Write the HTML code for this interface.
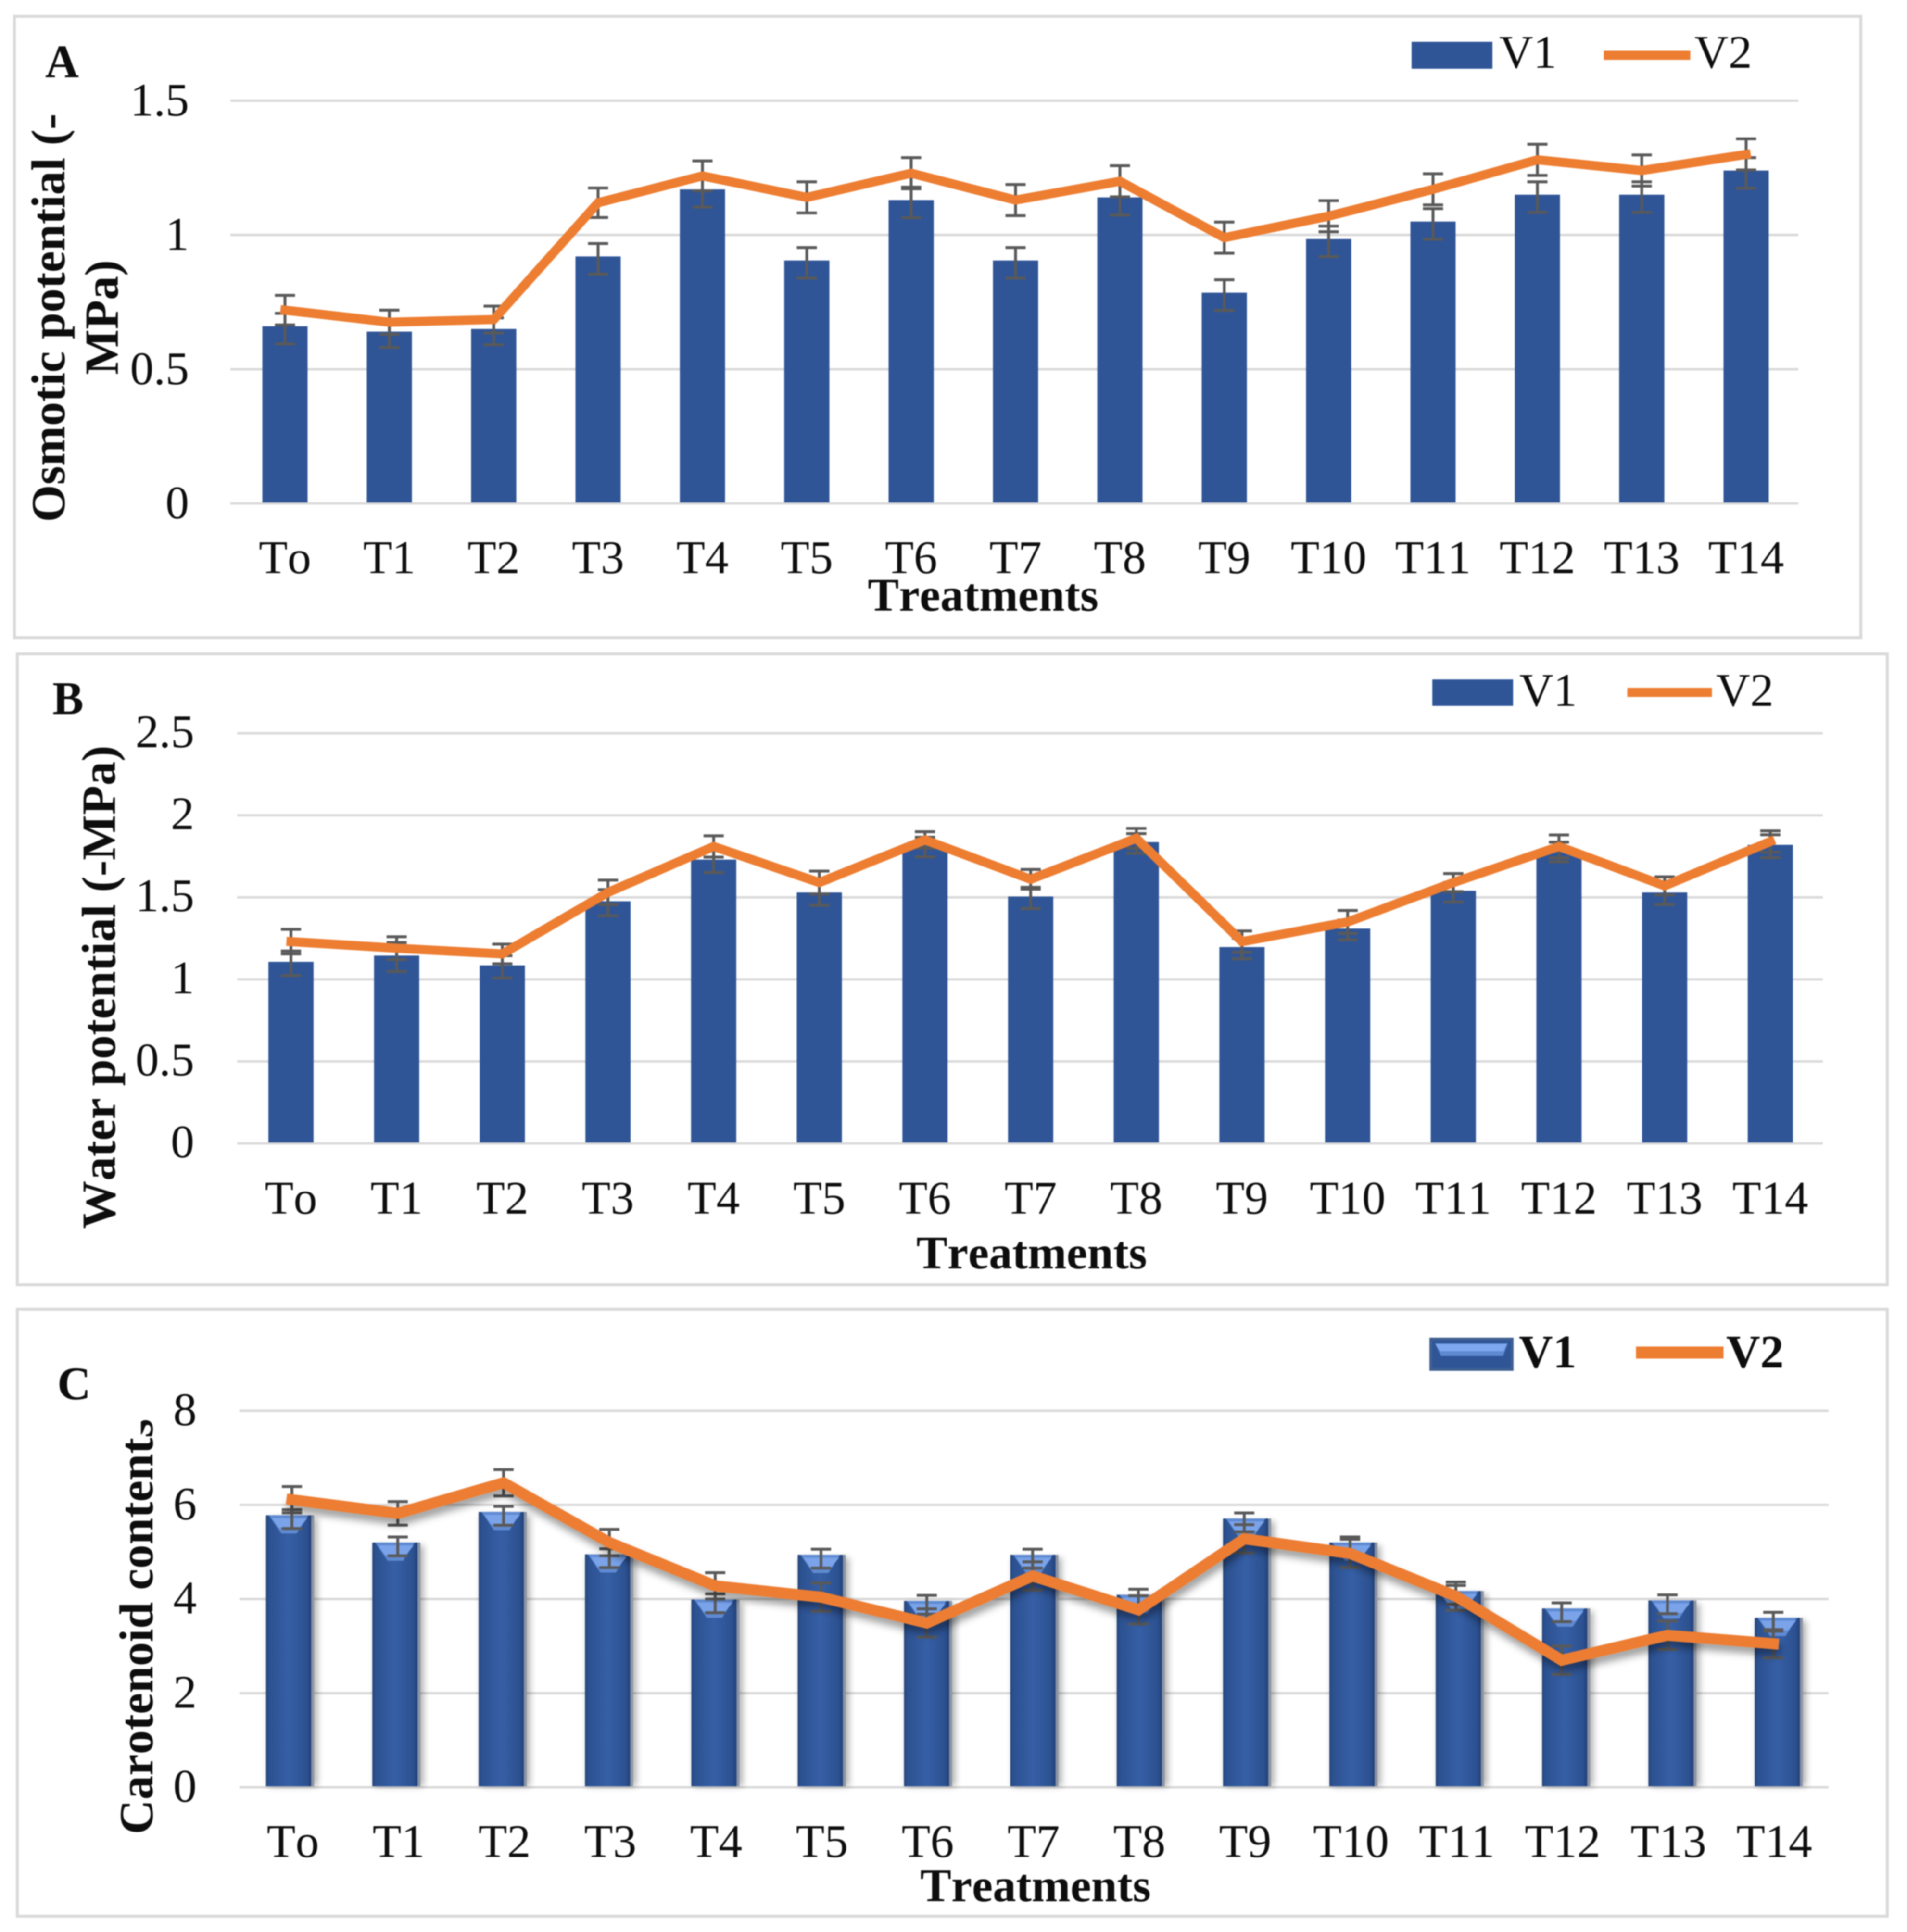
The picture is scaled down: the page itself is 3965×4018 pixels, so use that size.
<!DOCTYPE html>
<html lang="en">
<head>
<meta charset="utf-8">
<title>Osmotic potential, water potential and carotenoid content by treatment</title>
<style>
html,body{margin:0;padding:0;background:#fff;width:3965px;height:4018px;overflow:hidden}
svg{display:block;filter:blur(1.2px)}
text{font-family:"Liberation Serif",serif;fill:#0d0d0d;font-kerning:none;font-variant-ligatures:none}
.t{font-size:98px}
.b{font-size:97px;font-weight:bold}
.y{font-size:100px;font-weight:bold}
</style>
</head>
<body>
<svg id="figure" xmlns="http://www.w3.org/2000/svg" width="3965" height="4018" viewBox="0 0 3965 4018">
  <defs>
    <linearGradient id="bevelBar" x1="0" x2="1" y1="0" y2="0">
      <stop offset="0" stop-color="#24447a"/>
      <stop offset="0.07" stop-color="#2c5190"/>
      <stop offset="0.5" stop-color="#365fa6"/>
      <stop offset="0.9" stop-color="#2c5190"/>
      <stop offset="1" stop-color="#22407a"/>
    </linearGradient>
    <filter id="softShadow" x="-30%" y="-10%" width="160%" height="120%"><feGaussianBlur stdDeviation="7"/></filter>
    <filter id="lineShadow" x="-5%" y="-30%" width="110%" height="160%"><feDropShadow dx="4" dy="13" stdDeviation="8" flood-color="#000" flood-opacity="0.38"/></filter>
    <clipPath id="titleClip"><rect x="150" y="2992" width="220" height="900"/><rect x="293" y="2900" width="80" height="100"/></clipPath>
  </defs>
  <rect x="0" y="0" width="3965" height="4018" fill="#fff"/>

  <rect x="30" y="34" width="3839" height="1292" fill="#fff" stroke="#d9d9d9" stroke-width="6"/>
  <rect x="36" y="1360" width="3888" height="1312" fill="#fff" stroke="#d9d9d9" stroke-width="6"/>
  <rect x="36" y="2723" width="3888" height="1262" fill="#fff" stroke="#d9d9d9" stroke-width="6"/>

  <g id="marks"></g>

  <text class="b" x="94" y="161">A</text>
  <text class="b" x="109" y="1485">B</text>
  <text class="b" x="119" y="2910">C</text>

  <text class="y" text-anchor="middle" transform="translate(134 661) rotate(-90)">Osmotic potential (-</text>
  <text class="y" text-anchor="middle" transform="translate(245 660) rotate(-90)">MPa)</text>
  <text class="y" text-anchor="middle" transform="translate(239 2053) rotate(-90)">Water potential (-MPa)</text>
  <g clip-path="url(#titleClip)">
    <text class="y" transform="translate(317 3815) rotate(-90)">Carotenoid contents</text>
  </g>

  <text class="b" text-anchor="middle" x="2044" y="1270">Treatments</text>
  <text class="b" text-anchor="middle" x="2145" y="2638">Treatments</text>
  <text class="b" text-anchor="middle" x="2153" y="3954">Treatments</text>

  <g>
    <rect x="2935" y="87" width="168" height="56" fill="#2f5597"/>
    <text class="t" x="3117" y="141">V1</text>
    <line x1="3344" y1="115" x2="3505" y2="115" stroke="#ed7d31" stroke-width="19" stroke-linecap="square"/>
    <text class="t" x="3523" y="141">V2</text>
  </g>
  <g>
    <rect x="2978" y="1413" width="168" height="55" fill="#2f5597"/>
    <text class="t" x="3159" y="1468">V1</text>
    <line x1="3393" y1="1440" x2="3550" y2="1440" stroke="#ed7d31" stroke-width="19" stroke-linecap="square"/>
    <text class="t" x="3568" y="1468">V2</text>
  </g>
  <g>
    <g>
      <rect x="2972" y="2782" width="175" height="69" fill="#3f5f92"/>
      <rect x="2978" y="2788" width="163" height="57" fill="#2f5597"/>
      <polygon points="2984,2794 3135,2794 3125,2820 2996,2820" fill="#5f8ad2"/>
      <polygon points="2984,2795 3133,2795 3126,2810 2994,2810" fill="#7ea8ef"/>
    </g>
    <text class="b" style="font-size:98px" x="3158" y="2844">V1</text>
    <line x1="3414" y1="2813" x2="3571" y2="2813" stroke="#ed7d31" stroke-width="25" stroke-linecap="square"/>
    <text class="b" style="font-size:98px" x="3589" y="2844">V2</text>
  </g>
</svg>

<script>
const categories = ['To','T1','T2','T3','T4','T5','T6','T7','T8','T9','T10','T11','T12','T13','T14'];

const panelATicks = [0, 0.5, 1, 1.5];
const panelAV1 = [0.66,0.64,0.65,0.92,1.17,0.905,1.13,0.905,1.14,0.785,0.985,1.05,1.15,1.15,1.24];
const panelAV2 = [0.72,0.675,0.685,1.12,1.22,1.14,1.23,1.13,1.20,0.99,1.07,1.17,1.28,1.24,1.30];
const panelAV1Err = [0.057,0.05,0.05,0.057,0.057,0.057,0.057,0.057,0.057,0.057,0.057,0.057,0.057,0.057,0.057];
const panelAV2Err = [0.055,0.045,0.05,0.055,0.056,0.058,0.058,0.058,0.058,0.058,0.058,0.058,0.058,0.058,0.058];

const panelBTicks = [0, 0.5, 1, 1.5, 2, 2.5];
const panelBV1 = [1.107,1.145,1.085,1.476,1.73,1.53,1.815,1.505,1.837,1.197,1.31,1.54,1.785,1.53,1.82];
const panelBV2 = [1.23,1.19,1.155,1.53,1.81,1.59,1.85,1.61,1.86,1.23,1.35,1.59,1.81,1.57,1.84];
const panelBV1Err = [0.075,0.088,0.068,0.08,0.07,0.07,0.06,0.065,0.06,0.063,0.06,0.06,0.06,0.065,0.07];
const panelBV2Err = [0.075,0.07,0.06,0.075,0.065,0.07,0.05,0.06,0.06,0.065,0.07,0.055,0.07,0.055,0.065];

const panelCTicks = [0, 2, 4, 6, 8];
const panelCV1 = [5.78,5.2,5.85,4.95,3.99,4.94,3.96,4.94,4.09,5.71,5.2,4.17,3.8,3.97,3.6];
const panelCV2 = [6.11,5.82,6.47,5.2,4.28,4.04,3.49,4.49,3.77,5.28,4.97,4.06,2.7,3.23,3.05];
const panelCV1Err = [0.2,0.2,0.2,0.2,0.2,0.2,0.2,0.2,0.2,0.2,0.2,0.2,0.2,0.2,0.2];
const panelCV2Err = [0.28,0.25,0.28,0.28,0.28,0.3,0.3,0.3,0.3,0.3,0.3,0.3,0.3,0.3,0.3];

const SVG_NS = 'http://www.w3.org/2000/svg';
const marksRoot = document.getElementById('marks');

function make(tag, attrs, parent, text) {
  const node = document.createElementNS(SVG_NS, tag);
  for (const key in attrs) node.setAttribute(key, attrs[key]);
  if (text !== undefined) node.textContent = text;
  parent.appendChild(node);
  return node;
}

function yScale(p, v) { return p.y0 - (p.y0 - p.yTop) * v / p.yMax; }
function xBar(p, i) { return p.barX0 + p.barStep * i; }
function xMark(p, i) { return p.markX0 + p.markStep * i; }

function drawErrorBar(p, group, i, value, err, shift, seriesName) {
  const x = xMark(p, i);
  const top = yScale(p, value + err) + shift;
  const bottom = yScale(p, value - err) + shift;
  const stem = make('line', {x1:x, x2:x, y1:top, y2:bottom, stroke:'#595959', 'stroke-width':6}, group);
  
  
  const capTop = make('line', {x1:x-21, x2:x+21, y1:top, y2:top, stroke:'#595959', 'stroke-width':6}, group);
  
  
  const capBottom = make('line', {x1:x-21, x2:x+21, y1:bottom, y2:bottom, stroke:'#595959', 'stroke-width':6}, group);
  
  
}

function drawBevelBar(p, group, i, value) {
  const w = p.barW;
  const x = xBar(p, i) - w / 2;
  const top = yScale(p, value);
  const h = p.y0 - 2 - top;
  const name = p.id + '-bar-' + categories[i];

  const shadow = make('rect', {x:x+5, y:top+6, width:w+8, height:h-6, fill:'#000', opacity:0.3, filter:'url(#softShadow)'}, group);
  
  

  const side = make('rect', {x:x+w, y:top, width:6, height:h, fill:'#8b94a3'}, group);
  
  

  const body = make('rect', {x:x, y:top, width:w, height:h, fill:'url(#bevelBar)'}, group);
  
  

  const bevelPts = [[x+6,top],[x+w-6,top],[x+w-30,top+38],[x+32,top+38]].map(function (q) { return q.join(','); }).join(' ');
  const bevel = make('polygon', {points:bevelPts, fill:'#5f8ad2'}, group);
  
  

  const lightPts = [[x+12,top+6],[x+w-8,top+6],[x+w-24,top+26],[x+26,top+26]].map(function (q) { return q.join(','); }).join(' ');
  const light = make('polygon', {points:lightPts, fill:'#7aa3ea'}, group);
  
  
}

function drawFlatBar(p, group, i, value) {
  const top = yScale(p, value);
  const bar = make('rect', {x:xBar(p, i) - p.barW / 2, y:top, width:p.barW, height:p.y0 - 2 - top, fill:'#2f5597'}, group);
  
  
}

function drawPanel(p) {
  const root = make('g', {}, marksRoot);
  
  

  p.ticks.forEach(function (tick) {
    const y = yScale(p, tick);
    const grid = make('line', {x1:p.gridL, x2:p.gridR, y1:y, y2:y, stroke:'#d9d9d9', 'stroke-width':5}, root);
    
    
    const label = make('text', {x:p.tickRight, y:y + p.tickDy, 'text-anchor':'end', class:'t'}, root, String(tick));
    
    
  });

  categories.forEach(function (cat, i) {
    const label = make('text', {x:p.bevel ? xMark(p, i) + 2 : xBar(p, i), y:p.labelBase, 'text-anchor':'middle', class:'t'}, root, cat);
    
    
  });

  const bars = make('g', {}, root);
  
  
  p.v1.forEach(function (v, i) {
    if (p.bevel) drawBevelBar(p, bars, i, v); else drawFlatBar(p, bars, i, v);
  });

  const errors = make('g', {}, root);
  
  
  p.v1.forEach(function (v, i) { drawErrorBar(p, errors, i, v, p.e1[i], p.errShift, p.id + '-v1'); });
  p.v2.forEach(function (v, i) { drawErrorBar(p, errors, i, v, p.e2[i], 0, p.id + '-v2'); });

  const pts = p.v2.map(function (v, i) { return xMark(p, i) + ',' + yScale(p, v); }).join(' ');
  const attrs = {points:pts, fill:'none', stroke:'#ed7d31', 'stroke-width':p.lineW, 'stroke-linecap':'square', 'stroke-linejoin':'miter'};
  if (p.bevel) attrs.filter = 'url(#lineShadow)';
  const line = make('polyline', attrs, root);
  
  
}

drawPanel({id:'panel-a', ticks:panelATicks, v1:panelAV1, v2:panelAV2, e1:panelAV1Err, e2:panelAV2Err,
  y0:1047, yTop:209.5, yMax:1.5, barX0:592.5, barStep:217, markX0:592.5, markStep:217, barW:94,
  gridL:479, gridR:3739, labelBase:1192, tickRight:393, tickDy:31, lineW:19, errShift:5, bevel:false});
drawPanel({id:'panel-b', ticks:panelBTicks, v1:panelBV1, v2:panelBV2, e1:panelBV1Err, e2:panelBV2Err,
  y0:2378, yTop:1525, yMax:2.5, barX0:605, barStep:219.7, markX0:605, markStep:219.7, barW:94,
  gridL:493, gridR:3790, labelBase:2524, tickRight:404, tickDy:29, lineW:19, errShift:3, bevel:false});
drawPanel({id:'panel-c', ticks:panelCTicks, v1:panelCV1, v2:panelCV2, e1:panelCV1Err, e2:panelCV2Err,
  y0:3717, yTop:2934, yMax:8, barX0:600, barStep:221.1, markX0:607, markStep:220, barW:94,
  gridL:498, gridR:3802, labelBase:3862, tickRight:409, tickDy:30, lineW:23, errShift:8, bevel:true});
</script>
</body>
</html>
